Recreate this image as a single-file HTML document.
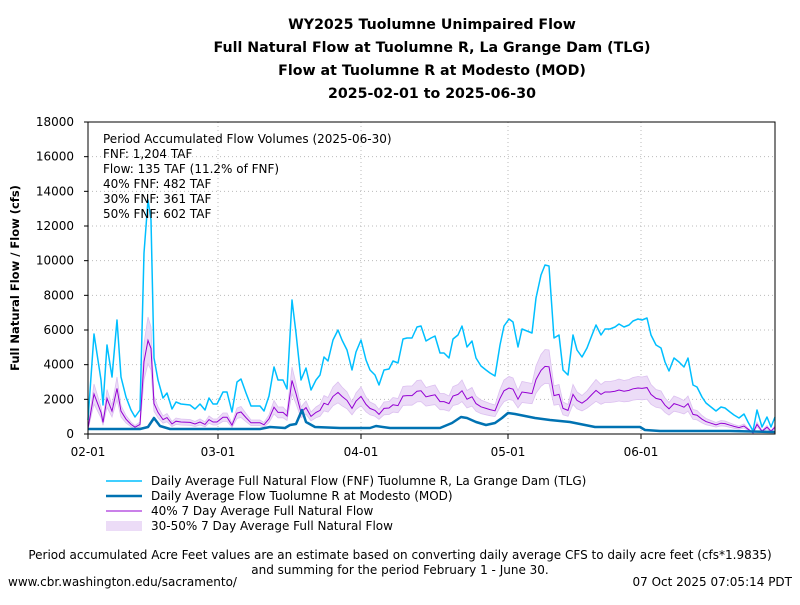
<!DOCTYPE html>
<html><head><meta charset="utf-8"><style>
body{margin:0;background:#fff;}
svg text{font-family:"DejaVu Sans","Liberation Sans",sans-serif;}
</style></head><body>
<svg id="s" width="800" height="600" xmlns="http://www.w3.org/2000/svg">
<g font-weight="bold" font-size="14.2" text-anchor="middle" fill="#000">
<text x="432" y="29">WY2025 Tuolumne Unimpaired Flow</text>
<text x="432" y="52">Full Natural Flow at Tuolumne R, La Grange Dam (TLG)</text>
<text x="432" y="75">Flow at Tuolumne R at Modesto (MOD)</text>
<text x="432" y="98">2025-02-01 to 2025-06-30</text>
</g>
<g id="grid" stroke="#bbb" stroke-width="1" stroke-dasharray="1,3"></g>
<g id="band"></g>
<rect x="88" y="122" width="687" height="312" fill="none" stroke="#000" stroke-width="1"/>
<g id="ticks" font-size="12" fill="#000"></g>
<text x="19" y="278" font-size="11.5" font-weight="bold" text-anchor="middle" transform="rotate(-90 19 278)">Full Natural Flow / Flow (cfs)</text>
<g font-size="12" fill="#000">
<text x="103" y="143">Period Accumulated Flow Volumes (2025-06-30)</text>
<text x="103" y="158">FNF: 1,204 TAF</text>
<text x="103" y="173">Flow: 135 TAF (11.2% of FNF)</text>
<text x="103" y="188">40% FNF: 482 TAF</text>
<text x="103" y="203">30% FNF: 361 TAF</text>
<text x="103" y="218">50% FNF: 602 TAF</text>
</g>
<g font-size="12" fill="#000">
<line x1="106" y1="481" x2="142" y2="481" stroke="#00bfff" stroke-width="1.5"/>
<text x="151" y="485">Daily Average Full Natural Flow (FNF) Tuolumne R, La Grange Dam (TLG)</text>
<line x1="106" y1="496" x2="142" y2="496" stroke="#0072b2" stroke-width="2.5"/>
<text x="151" y="500">Daily Average Flow Tuolumne R at Modesto (MOD)</text>
<line x1="106" y1="511" x2="142" y2="511" stroke="#9400d3" stroke-width="1"/>
<text x="151" y="515">40% 7 Day Average Full Natural Flow</text>
<rect x="106" y="521" width="36" height="10" fill="#ecdcf7"/>
<text x="151" y="530">30-50% 7 Day Average Full Natural Flow</text>
<text x="400" y="559" text-anchor="middle">Period accumulated Acre Feet values are an estimate based on converting daily average CFS to daily acre feet (cfs*1.9835)</text>
<text x="400" y="574" text-anchor="middle">and summing for the period February 1 - June 30.</text>
<text x="8" y="586">www.cbr.washington.edu/sacramento/</text>
<text x="792" y="586" text-anchor="end">07 Oct 2025 07:05:14 PDT</text>
</g>
</svg>
<script>
var NS="http://www.w3.org/2000/svg",s=document.getElementById('s');
function el(p,t,a){var e=document.createElementNS(NS,t);for(var k in a)e.setAttribute(k,a[k]);p.appendChild(e);return e;}
var g=document.getElementById('grid'),tk=document.getElementById('ticks');
for(var v=0;v<=18000;v+=2000){var y=434-v*312/18000;
 if(v>0&&v<18000)el(g,'line',{x1:88,x2:775,y1:y,y2:y});
 el(tk,'line',{x1:84,x2:88,y1:y,y2:y,stroke:'#000'});
 var t=el(tk,'text',{x:74,y:y+4,'text-anchor':'end'});t.textContent=v;}
var xs=[[88,'02-01'],[218,'03-01'],[361,'04-01'],[508,'05-01'],[641,'06-01']];
xs.forEach(function(a){if(a[0]>88)el(g,'line',{x1:a[0],x2:a[0],y1:122,y2:434});
 el(tk,'line',{x1:a[0],x2:a[0],y1:434,y2:439,stroke:'#000'});
 var t=el(tk,'text',{x:a[0],y:456,'text-anchor':'middle'});t.textContent=a[1];});
var F=[[88,420],[94,334],[101,380],[103,405],[107,345],[112,377],[117,320],[121,377],[126,397],[131,410],[135,417],[140,410],[144,253],[148,200],[151,220],[154,358],[158,380],[163,398],[167,393],[172,409],[176,402],[181,404],[190,405],[195,409],[200,404],[205,410],[209,398],[213,404],[217,404],[223,392],[227,392],[232,412],[237,382],[241,379],[246,393],[251,406],[260,406],[264,411],[269,396],[274,367],[278,380],[283,380],[287,389],[292,300],[296,333],[301,380],[306,368],[311,390],[316,380],[320,375],[324,357],[328,361],[333,340],[338,330],[342,340],[347,350],[352,370],[356,352],[361,340],[366,360],[370,370],[375,375],[379,385],[384,370],[389,369],[393,361],[398,363],[403,339],[407,338],[412,338],[417,327],[421,326],[426,341],[431,338],[435,336],[440,353],[444,353],[449,358],[453,339],[458,335],[462,326],[467,347],[472,341],[476,358],[481,366],[486,370],[490,373],[495,376],[500,345],[504,326],[509,319],[513,322],[518,347],[522,329],[527,331],[532,333],[536,298],[541,275],[545,265],[549,266],[554,338],[559,335],[563,370],[568,375],[573,335],[577,350],[582,357],[587,348],[592,335],[596,325],[601,335],[605,329],[610,329],[615,327],[619,324],[624,327],[629,325],[633,321],[638,319],[642,320],[647,318],[651,335],[656,345],[661,348],[665,362],[669,371],[674,358],[679,362],[684,367],[688,358],[693,385],[697,387],[702,397],[706,403],[711,407],[716,411],[721,407],[725,408],[730,412],[734,415],[739,418],[744,414],[748,422],[753,431],[757,410],[762,427],[767,417],[771,427],[775,417]];
var M=[[88,429],[140,429],[148,427],[154,418],[160,426],[170,429],[260,429],[270,427],[285,428],[290,425],[296,424],[302,410],[306,422],[315,427],[340,428],[370,428],[376,426],[390,428],[440,428],[452,423],[461,417],[467,418],[476,422],[486,425],[495,423],[502,418],[508,413],[515,414],[525,416],[535,418],[550,420],[570,422],[580,424],[595,427],[640,427],[645,430],[660,431],[700,431],[730,431],[775,432]];
function sc(f){return F.map(function(p){return [p[0],434-f*(434-p[1])];});}
function d(a){return 'M'+a.map(function(p){return p[0]+','+p[1].toFixed(1);}).join('L');}
var b=document.getElementById('band'),lo=sc(0.3),hi=sc(0.5);
el(b,'path',{d:d(hi)+'L'+lo.slice().reverse().map(function(p){return p[0]+','+p[1].toFixed(1);}).join('L')+'Z',fill:'#ecdcf7',stroke:'#dcc0f0','stroke-width':0.8});
el(b,'path',{d:d(F),fill:'none',stroke:'#00bfff','stroke-width':1.5,'stroke-linejoin':'round'});
el(b,'path',{d:d(sc(0.4)),fill:'none',stroke:'#9400d3','stroke-width':1});
el(b,'path',{d:d(M),fill:'none',stroke:'#0072b2','stroke-width':2.5,'stroke-linejoin':'round'});
</script>
</body></html>
